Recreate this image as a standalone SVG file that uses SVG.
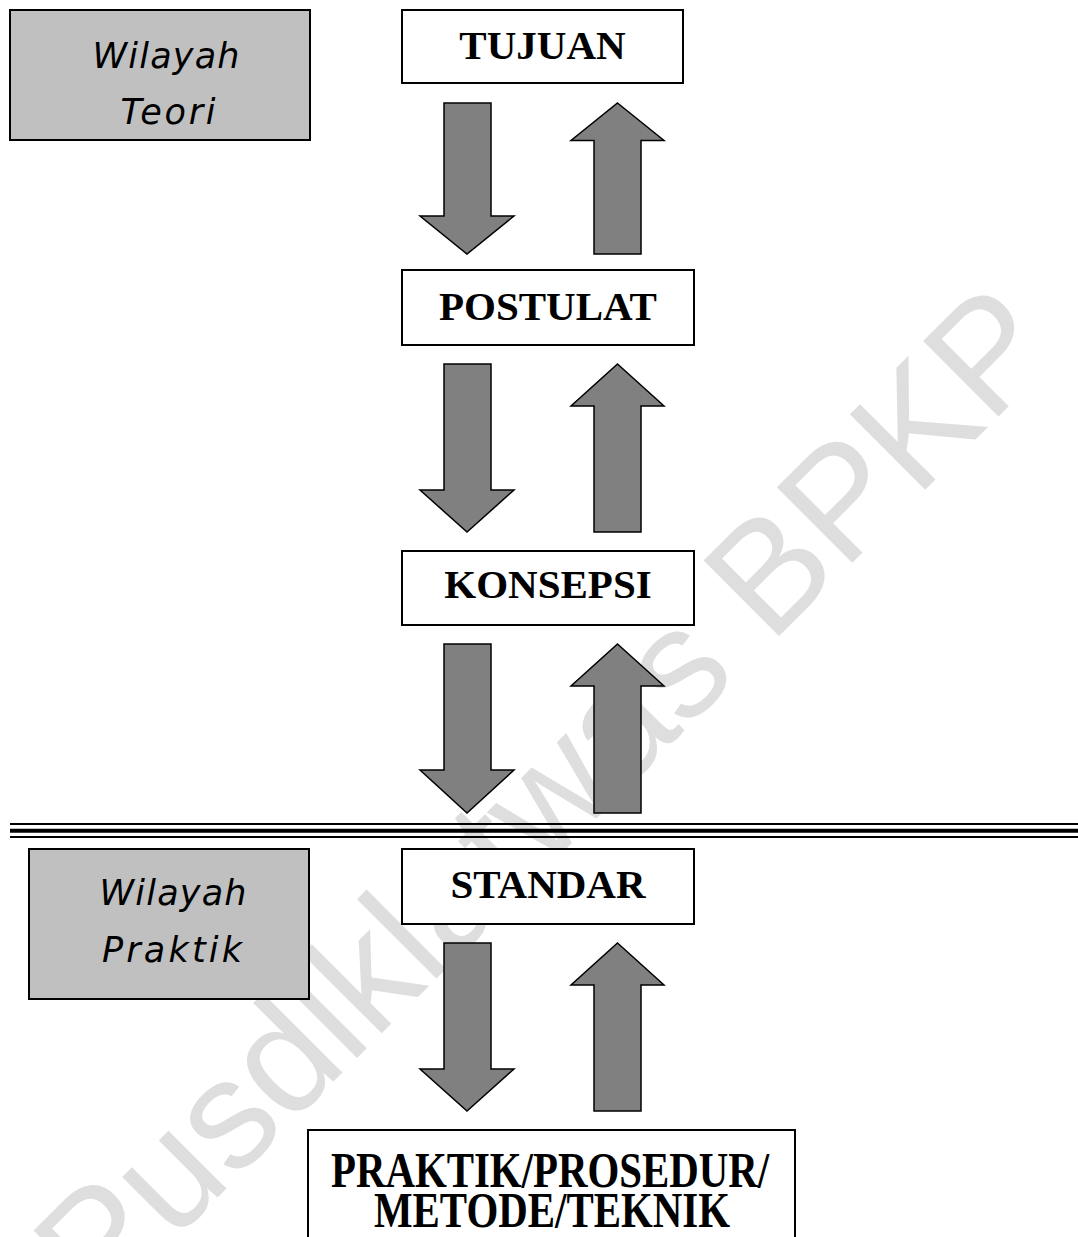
<svg xmlns="http://www.w3.org/2000/svg" width="1078" height="1237" viewBox="0 0 1078 1237">
<style>
.box{fill:#fff;stroke:#000;stroke-width:2}
.region{fill:#c0c0c0;stroke:#000;stroke-width:2}
.lbl{font-family:"Liberation Serif","Times New Roman",serif;font-weight:bold;font-size:41px;fill:#000;text-anchor:middle}
.big{font-size:50px}
.reg{font-family:"DejaVu Sans",sans-serif;font-style:italic;font-size:35px;fill:#000;text-anchor:middle}
.arrow{fill:#808080;stroke:#000;stroke-width:1.5;stroke-linejoin:miter}
.wm{font-family:"Liberation Sans",Arial,sans-serif;font-size:155px;fill:#dedede}
.sep{stroke:#000;fill:none}
</style>
<rect width="1078" height="1237" fill="#fff"/>
<g id="watermark">
<text class="wm" transform="translate(100,1315) rotate(-45)">Pusdiklatwas BPKP</text>
</g>
<g id="divider">
<line class="sep" x1="10" y1="824" x2="1078" y2="824" stroke-width="2"/>
<line class="sep" x1="10" y1="830.7" x2="1078" y2="830.7" stroke-width="4"/>
<line class="sep" x1="10" y1="837" x2="1078" y2="837" stroke-width="2"/>
</g>
<g id="connectors">
<polygon class="arrow" points="444,103 491,103 491,216 514,216 467,254 420,216 444,216"/>
<polygon class="arrow" points="617.5,103 664,140.5 641,140.5 641,254 594,254 594,140.5 571,140.5"/>
<polygon class="arrow" points="444,364 491,364 491,490 514,490 467,532 420,490 444,490"/>
<polygon class="arrow" points="617.5,364 664,406 641,406 641,532 594,532 594,406 571,406"/>
<polygon class="arrow" points="444,644 491,644 491,770 514,770 467,813 420,770 444,770"/>
<polygon class="arrow" points="617.5,644 664,686 641,686 641,813 594,813 594,686 571,686"/>
<polygon class="arrow" points="444,943 491,943 491,1069 514,1069 467,1111 420,1069 444,1069"/>
<polygon class="arrow" points="617.5,943 664,985 641,985 641,1111 594,1111 594,985 571,985"/>
</g>
<g id="wilayah-teori">
<rect class="region" x="10" y="10" width="300" height="130"/>
<text class="reg" x="166" y="67.5" textLength="147">Wilayah</text>
<text class="reg" x="168" y="124" textLength="95">Teori</text>
</g>
<g id="wilayah-praktik">
<rect class="region" x="29" y="849" width="280" height="150"/>
<text class="reg" x="173" y="905" textLength="147">Wilayah</text>
<text class="reg" x="172" y="962" textLength="140">Praktik</text>
</g>
<g id="tujuan">
<rect class="box" x="402" y="10" width="281" height="73"/>
<text class="lbl" x="542.5" y="59">TUJUAN</text>
</g>
<g id="postulat">
<rect class="box" x="402" y="270" width="292" height="75"/>
<text class="lbl" x="548" y="320">POSTULAT</text>
</g>
<g id="konsepsi">
<rect class="box" x="402" y="551" width="292" height="74"/>
<text class="lbl" x="548" y="598">KONSEPSI</text>
</g>
<g id="standar">
<rect class="box" x="402" y="849" width="292" height="75"/>
<text class="lbl" x="548" y="898">STANDAR</text>
</g>
<g id="praktik">
<rect class="box" x="308" y="1130" width="487" height="130"/>
<text class="lbl big" x="550" y="1187" textLength="438" lengthAdjust="spacingAndGlyphs">PRAKTIK/PROSEDUR/</text>
<text class="lbl big" x="552" y="1227" textLength="356" lengthAdjust="spacingAndGlyphs">METODE/TEKNIK</text>
</g>
</svg>
